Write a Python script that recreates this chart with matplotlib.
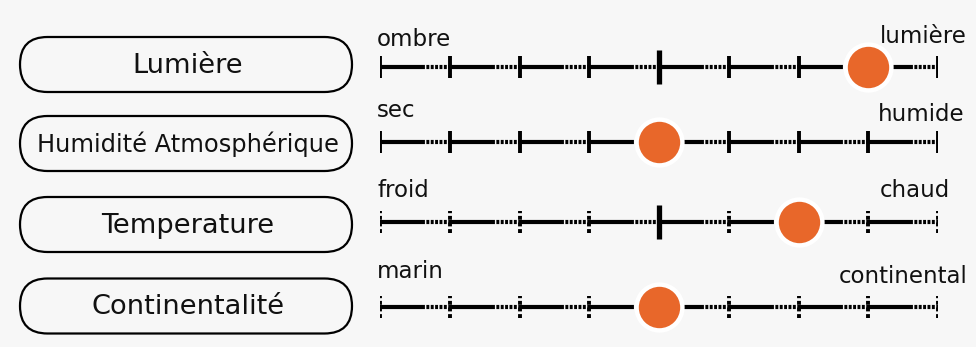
import matplotlib

matplotlib.use("Agg")
import matplotlib.pyplot as plt
from matplotlib.patches import FancyBboxPatch

# ---- Données : indicateurs écologiques (échelle 1..9) ----
facteurs = ["Lumière", "Humidité Atmosphérique", "Temperature", "Continentalité"]
valeurs = [8, 5, 7, 5]
labels_min = ["ombre", "sec", "froid", "marin"]
labels_max = ["lumière", "humide", "chaud", "continental"]
echelle = list(range(1, 10))

# ---- Mise en page (pixels, origine en haut à gauche) ----
W, H = 976, 347
BG = "#f7f7f7"
ORANGE = "#E8672A"
box_y = [64.5, 143.5, 224.5, 306]         # centre des cartouches
line_y = [67, 142, 222, 307]              # centre des échelles
box_fs = [19.6, 17.4, 19.6, 19.6]
min_base = [46, 117, 197, 278]
max_base = [43, 121, 197, 283]
max_right = [967, 965, 950, 968]
tick_style = ["-", "-", (0, (1, 0.7)), (0, (1, 0.7))]
X0, X1 = 380, 938

fig = plt.figure(figsize=(W / 100, H / 100), dpi=100, facecolor=BG)
bg = fig.add_axes([0, 0, 1, 1])
bg.set_xlim(0, W)
bg.set_ylim(H, 0)
bg.axis("off")

for i, nom in enumerate(facteurs):
    yc = box_y[i]
    hh = 27.5
    box = FancyBboxPatch((20, yc - hh), 332, 2 * hh,
                         boxstyle=f"round,pad=0,rounding_size={hh}",
                         fc=BG, ec="black", lw=1.6)
    bg.add_patch(box)
    bg.text(188, yc + 1, nom, ha="center", va="center",
            fontsize=box_fs[i], color="#111111")
    bg.text(377, min_base[i], labels_min[i], ha="left", va="baseline",
            fontsize=16.5, color="#111111")
    bg.text(max_right[i], max_base[i], labels_max[i], ha="right",
            va="baseline", fontsize=16.5, color="#111111")

    # axe de l'échelle : x en valeurs 1..9, y en pixels
    ax = fig.add_axes([X0 / W, (H - line_y[i] - 30) / H, (X1 - X0) / W, 60 / H])
    ax.set_xlim(1, 9)
    ax.set_ylim(-30, 30)
    ax.axis("off")
    ax.patch.set_alpha(0)

    for v in echelle[:-1]:
        ax.plot([v, v + 0.6], [0, 0], color="black", lw=3,
                solid_capstyle="butt")
        ax.plot([v + 0.6, v + 1], [0, 0], color="black", lw=3,
                linestyle=(0, (0.7, 0.35)))
    for v in echelle:
        if v == 5:
            ax.vlines(v, -17, 17, color="black", lw=3.8)
        else:
            ax.vlines(v, -11, 11, color="black", lw=2.8,
                      linestyles=[tick_style[i]])
    ax.plot(valeurs[i], 0, "o", ms=33, mfc=ORANGE, mec="white", mew=3.2,
            zorder=5, clip_on=False)

fig.savefig("out.png", dpi=100, facecolor=BG)
